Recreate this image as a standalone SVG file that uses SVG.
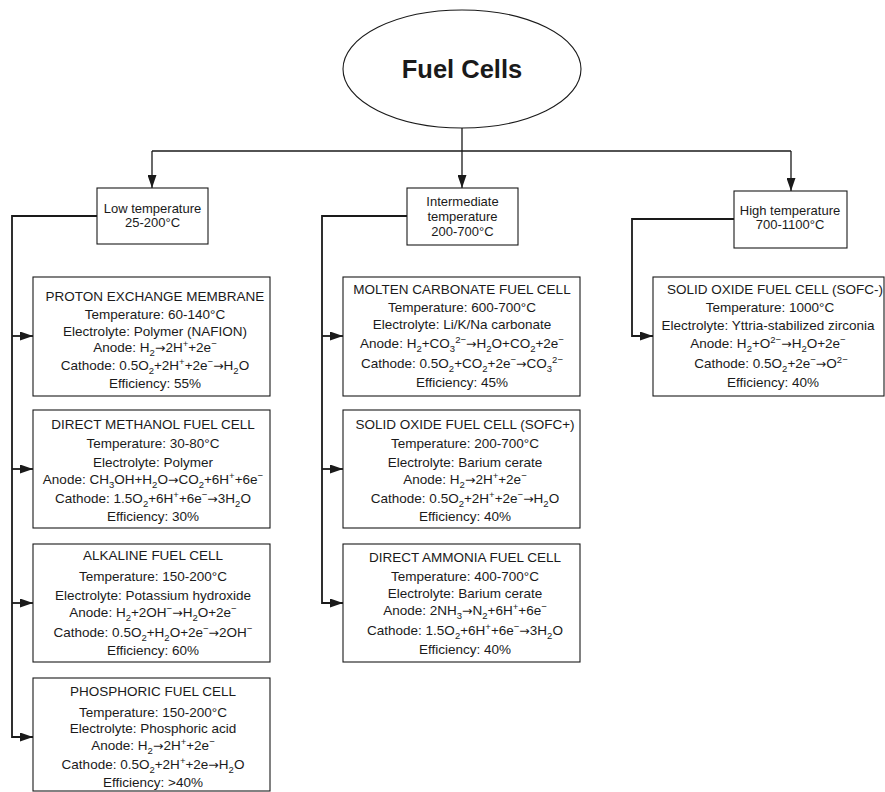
<svg xmlns="http://www.w3.org/2000/svg" width="885" height="792" viewBox="0 0 885 792">
  <style>
    .box { fill: #fff; stroke: #1a1a1a; stroke-width: 1.1; }
    .t { font-family: "Liberation Sans", Arial, Helvetica, sans-serif; font-size: 13.5px; fill: #1a1a1a; text-anchor: middle; }
    .cat { font-family: "Liberation Sans", Arial, Helvetica, sans-serif; font-size: 13px; fill: #1a1a1a; text-anchor: middle; }
    .title { font-family: "Liberation Sans", Arial, Helvetica, sans-serif; font-size: 25.5px; font-weight: bold; fill: #1a1a1a; text-anchor: middle; }
    .sub { font-size: 9.5px; baseline-shift: -3.5px; }
    .sup { font-size: 9.5px; baseline-shift: 5px; }
    .ar { font-family: "DejaVu Sans", sans-serif; font-size: 12.5px; }
    .link { fill: none; stroke: #1a1a1a; stroke-width: 1.3; }
    .trunk { fill: none; stroke: #1a1a1a; stroke-width: 1.8; }
  </style>
  <defs>
    <marker id="ah" markerUnits="userSpaceOnUse" markerWidth="13" markerHeight="9" refX="13" refY="4.5" orient="auto">
      <path d="M0,0 L13,4.5 L0,9 Z" fill="#1a1a1a"/>
    </marker>
  </defs>
  <rect width="885" height="792" fill="#fff"/>

  <!-- connectors -->
  <g id="connectors">
    <path class="link" d="M462,128 V188" marker-end="url(#ah)"/>
    <path class="link" d="M152,151 H791"/>
    <path class="link" d="M152,151 V188" marker-end="url(#ah)"/>
    <path class="link" d="M791,151 V191" marker-end="url(#ah)"/>

    <!-- low temperature branch -->
    <path class="trunk" d="M97,216 H12 V737 H33" marker-end="url(#ah)"/>
    <path class="trunk" d="M12,336 H33" marker-end="url(#ah)"/>
    <path class="trunk" d="M12,469 H33" marker-end="url(#ah)"/>
    <path class="trunk" d="M12,603 H33" marker-end="url(#ah)"/>

    <!-- intermediate temperature branch -->
    <path class="trunk" d="M407,216 H322 V603 H343" marker-end="url(#ah)"/>
    <path class="trunk" d="M322,336 H343" marker-end="url(#ah)"/>
    <path class="trunk" d="M322,469 H343" marker-end="url(#ah)"/>

    <!-- high temperature branch -->
    <path class="trunk" d="M734,219 H632 V336 H653" marker-end="url(#ah)"/>
  </g>

  <!-- root -->
  <g id="fuel-cells">
    <ellipse cx="462" cy="69" rx="119" ry="59" fill="#fff" stroke="#1a1a1a" stroke-width="1.1"/>
    <text class="title" x="462" y="78">Fuel Cells</text>
  </g>

  <!-- categories -->
  <g id="low-temperature">
    <rect class="box" x="97" y="188" width="111" height="56"/>
    <text class="cat" x="152.5" y="213">Low temperature</text>
    <text class="cat" x="152.5" y="227">25-200°C</text>
  </g>
  <g id="intermediate-temperature">
    <rect class="box" x="407" y="188" width="111" height="57"/>
    <text class="cat" x="462.5" y="206">Intermediate</text>
    <text class="cat" x="462.5" y="221">temperature</text>
    <text class="cat" x="462.5" y="236">200-700°C</text>
  </g>
  <g id="high-temperature">
    <rect class="box" x="734" y="191" width="113" height="57"/>
    <text class="cat" x="790" y="215">High temperature</text>
    <text class="cat" x="790" y="229">700-1100°C</text>
  </g>

  <!-- low temperature cells -->
  <g id="pem">
    <rect class="box" x="33" y="277" width="237" height="119"/>
    <text class="t" x="155" y="301">PROTON EXCHANGE MEMBRANE</text>
    <text class="t" x="155" y="319">Temperature: 60-140°C</text>
    <text class="t" x="155" y="336">Electrolyte: Polymer (NAFION)</text>
    <text class="t" x="155" y="352">Anode: H<tspan class="sub">2</tspan><tspan class="ar">→</tspan>2H<tspan class="sup">+</tspan>+2e<tspan class="sup">−</tspan></text>
    <text class="t" x="155" y="370">Cathode: 0.5O<tspan class="sub">2</tspan>+2H<tspan class="sup">+</tspan>+2e<tspan class="sup">−</tspan><tspan class="ar">→</tspan>H<tspan class="sub">2</tspan>O</text>
    <text class="t" x="155" y="388">Efficiency: 55%</text>
  </g>
  <g id="dmfc">
    <rect class="box" x="33" y="410" width="237" height="118"/>
    <text class="t" x="153" y="429">DIRECT METHANOL FUEL CELL</text>
    <text class="t" x="153" y="448">Temperature: 30-80°C</text>
    <text class="t" x="153" y="467">Electrolyte: Polymer</text>
    <text class="t" x="153" y="484">Anode: CH<tspan class="sub">3</tspan>OH+H<tspan class="sub">2</tspan>O<tspan class="ar">→</tspan>CO<tspan class="sub">2</tspan>+6H<tspan class="sup">+</tspan>+6e<tspan class="sup">−</tspan></text>
    <text class="t" x="153" y="503">Cathode: 1.5O<tspan class="sub">2</tspan>+6H<tspan class="sup">+</tspan>+6e<tspan class="sup">−</tspan><tspan class="ar">→</tspan>3H<tspan class="sub">2</tspan>O</text>
    <text class="t" x="153" y="521">Efficiency: 30%</text>
  </g>
  <g id="afc">
    <rect class="box" x="33" y="544" width="237" height="118"/>
    <text class="t" x="153" y="560">ALKALINE FUEL CELL</text>
    <text class="t" x="153" y="581">Temperature: 150-200°C</text>
    <text class="t" x="153" y="600">Electrolyte: Potassium hydroxide</text>
    <text class="t" x="153" y="617">Anode: H<tspan class="sub">2</tspan>+2OH<tspan class="sup">−</tspan><tspan class="ar">→</tspan>H<tspan class="sub">2</tspan>O+2e<tspan class="sup">−</tspan></text>
    <text class="t" x="153" y="637">Cathode: 0.5O<tspan class="sub">2</tspan>+H<tspan class="sub">2</tspan>O+2e<tspan class="sup">−</tspan><tspan class="ar">→</tspan>2OH<tspan class="sup">−</tspan></text>
    <text class="t" x="153" y="655">Efficiency: 60%</text>
  </g>
  <g id="pafc">
    <rect class="box" x="33" y="678" width="237" height="113"/>
    <text class="t" x="153" y="696">PHOSPHORIC FUEL CELL</text>
    <text class="t" x="153" y="717">Temperature: 150-200°C</text>
    <text class="t" x="153" y="733">Electrolyte: Phosphoric acid</text>
    <text class="t" x="153" y="750">Anode: H<tspan class="sub">2</tspan><tspan class="ar">→</tspan>2H<tspan class="sup">+</tspan>+2e<tspan class="sup">−</tspan></text>
    <text class="t" x="153" y="769">Cathode: 0.5O<tspan class="sub">2</tspan>+2H<tspan class="sup">+</tspan>+2e<tspan class="ar">→</tspan>H<tspan class="sub">2</tspan>O</text>
    <text class="t" x="153" y="787">Efficiency: &gt;40%</text>
  </g>

  <!-- intermediate temperature cells -->
  <g id="mcfc">
    <rect class="box" x="343" y="277" width="237" height="119"/>
    <text class="t" x="462" y="294">MOLTEN CARBONATE FUEL CELL</text>
    <text class="t" x="462" y="312">Temperature: 600-700°C</text>
    <text class="t" x="462" y="329">Electrolyte: Li/K/Na carbonate</text>
    <text class="t" x="462" y="348">Anode: H<tspan class="sub">2</tspan>+CO<tspan class="sub">3</tspan><tspan class="sup">2−</tspan><tspan class="ar">→</tspan>H<tspan class="sub">2</tspan>O+CO<tspan class="sub">2</tspan>+2e<tspan class="sup">−</tspan></text>
    <text class="t" x="462" y="368">Cathode: 0.5O<tspan class="sub">2</tspan>+CO<tspan class="sub">2</tspan>+2e<tspan class="sup">−</tspan><tspan class="ar">→</tspan>CO<tspan class="sub">3</tspan><tspan class="sup">2−</tspan></text>
    <text class="t" x="462" y="387">Efficiency: 45%</text>
  </g>
  <g id="sofc-plus">
    <rect class="box" x="343" y="410" width="237" height="118"/>
    <text class="t" x="465" y="429">SOLID OXIDE FUEL CELL (SOFC+)</text>
    <text class="t" x="465" y="448">Temperature: 200-700°C</text>
    <text class="t" x="465" y="467">Electrolyte: Barium cerate</text>
    <text class="t" x="465" y="484">Anode: H<tspan class="sub">2</tspan><tspan class="ar">→</tspan>2H<tspan class="sup">+</tspan>+2e<tspan class="sup">−</tspan></text>
    <text class="t" x="465" y="503">Cathode: 0.5O<tspan class="sub">2</tspan>+2H<tspan class="sup">+</tspan>+2e<tspan class="sup">−</tspan><tspan class="ar">→</tspan>H<tspan class="sub">2</tspan>O</text>
    <text class="t" x="465" y="521">Efficiency: 40%</text>
  </g>
  <g id="dafc">
    <rect class="box" x="343" y="544" width="237" height="118"/>
    <text class="t" x="465" y="562">DIRECT AMMONIA FUEL CELL</text>
    <text class="t" x="465" y="581">Temperature: 400-700°C</text>
    <text class="t" x="465" y="598">Electrolyte: Barium cerate</text>
    <text class="t" x="465" y="615">Anode: 2NH<tspan class="sub">3</tspan><tspan class="ar">→</tspan>N<tspan class="sub">2</tspan>+6H<tspan class="sup">+</tspan>+6e<tspan class="sup">−</tspan></text>
    <text class="t" x="465" y="635">Cathode: 1.5O<tspan class="sub">2</tspan>+6H<tspan class="sup">+</tspan>+6e<tspan class="sup">−</tspan><tspan class="ar">→</tspan>3H<tspan class="sub">2</tspan>O</text>
    <text class="t" x="465" y="654">Efficiency: 40%</text>
  </g>

  <!-- high temperature cell -->
  <g id="sofc-minus">
    <rect class="box" x="653" y="277" width="231" height="119"/>
    <text class="t" x="775" y="294">SOLID OXIDE FUEL CELL (SOFC-)</text>
    <text class="t" x="770" y="312">Temperature: 1000°C</text>
    <text class="t" x="768" y="330">Electrolyte: Yttria-stabilized zirconia</text>
    <text class="t" x="768" y="348">Anode: H<tspan class="sub">2</tspan>+O<tspan class="sup">2−</tspan><tspan class="ar">→</tspan>H<tspan class="sub">2</tspan>O+2e<tspan class="sup">−</tspan></text>
    <text class="t" x="771" y="368">Cathode: 0.5O<tspan class="sub">2</tspan>+2e<tspan class="sup">−</tspan><tspan class="ar">→</tspan>O<tspan class="sup">2−</tspan></text>
    <text class="t" x="773" y="387">Efficiency: 40%</text>
  </g>
</svg>
